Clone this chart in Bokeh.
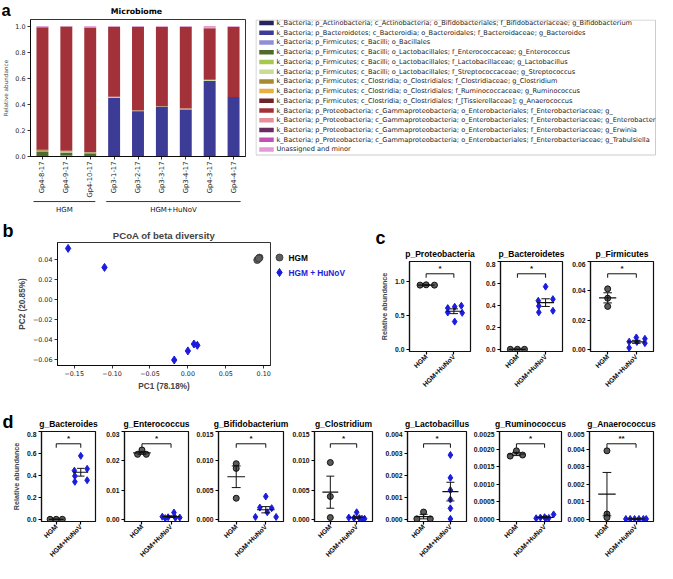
import math
from bokeh.plotting import figure
from bokeh.layouts import column, row
from bokeh.models import (ColumnDataSource, FactorRange, Range1d, FixedTicker, PrintfTickFormatter)
from bokeh.embed import file_html
from bokeh.resources import INLINE
from bokeh.core.properties import value

# ---------------- panel a data ----------------
samples = ["Gp4-8-17", "Gp4-9-17", "Gp4-10-17", "Gp3-1-17", "Gp3-2-17",
           "Gp3-3-17", "Gp3-4-17", "Gp4-3-17", "Gp4-4-17"]
sample_group = ["HGM", "HGM", "HGM", "HGM+HuNoV", "HGM+HuNoV",
                "HGM+HuNoV", "HGM+HuNoV", "HGM+HuNoV", "HGM+HuNoV"]
groups = ["HGM", "HGM+HuNoV"]

taxa_labels = [
    "k_Bacteria; p_Actinobacteria; c_Actinobacteria; o_Bifidobacteriales; f_Bifidobacteriaceae; g_Bifidobacterium",
    "k_Bacteria; p_Bacteroidetes; c_Bacteroidia; o_Bacteroidales; f_Bacteroidaceae; g_Bacteroides",
    "k_Bacteria; p_Firmicutes; c_Bacilli; o_Bacillales",
    "k_Bacteria; p_Firmicutes; c_Bacilli; o_Lactobacillales; f_Enterococcaceae; g_Enterococcus",
    "k_Bacteria; p_Firmicutes; c_Bacilli; o_Lactobacillales; f_Lactobacillaceae; g_Lactobacillus",
    "k_Bacteria; p_Firmicutes; c_Bacilli; o_Lactobacillales; f_Streptococcaceae; g_Streptococcus",
    "k_Bacteria; p_Firmicutes; c_Clostridia; o_Clostridiales; f_Clostridiaceae; g_Clostridium",
    "k_Bacteria; p_Firmicutes; c_Clostridia; o_Clostridiales; f_Ruminococcaceae; g_Ruminococcus",
    "k_Bacteria; p_Firmicutes; c_Clostridia; o_Clostridiales; f_[Tissierellaceae]; g_Anaerococcus",
    "k_Bacteria; p_Proteobacteria; c_Gammaproteobacteria; o_Enterobacteriales; f_Enterobacteriaceae; g_",
    "k_Bacteria; p_Proteobacteria; c_Gammaproteobacteria; o_Enterobacteriales; f_Enterobacteriaceae; g_Enterobacter",
    "k_Bacteria; p_Proteobacteria; c_Gammaproteobacteria; o_Enterobacteriales; f_Enterobacteriaceae; g_Erwinia",
    "k_Bacteria; p_Proteobacteria; c_Gammaproteobacteria; o_Enterobacteriales; f_Enterobacteriaceae; g_Trabulsiella",
    "Unassigned and minor",
]
taxa_colors = ["#25255c", "#3c3c96", "#8f8fd8", "#4d6b2b", "#a6c84c", "#cadc98", "#a58a32",
               "#e6b042", "#6e2428", "#a3313a", "#e4909a", "#6a2a62", "#c450b4", "#e49ad8"]

g_bifidobacterium = [0.0094, 0.0085, 0.0035, 0.0038, 0.0019, 0.0018, 0.0010, 0.0003, 0.0003]
g_bacteroides = [0.0, 0.0, 0.0, 0.445, 0.345, 0.380, 0.360, 0.580, 0.455]
o_bacillales = [0.0005, 0.0004, 0.0003, 0.0002, 0.0001, 0.0001, 0.0001, 0.0002, 0.0001]
g_enterococcus = [0.0238, 0.0222, 0.0220, 0.0021, 0.0008, 0.0006, 0.0005, 0.0004, 0.0003]
g_lactobacillus = [0.0003, 0.00005, 0.00005, 0.0029, 0.0019, 0.0013, 0.0008, 0.0004, 0.00005]
g_streptococcus = [0.0030, 0.0066, 0.0056, 0.0019, 0.0022, 0.0018, 0.0044, 0.0060, 0.0005]
g_clostridium = [0.0098, 0.0037, 0.0003, 0.0010, 0.0003, 0.0002, 0.0001, 0.0001, 0.0001]
g_ruminococcus = [0.00195, 0.00185, 0.00178, 0.00015, 0.00008, 0.00006, 0.00005, 0.00003, 0.00004]
g_anaerococcus = [0.0039, 0.0003, 0.0001, 0.0, 0.0, 0.0, 0.0, 0.0, 0.0]
g_enterobacteriaceae = [0.938, 0.951, 0.956, 0.536, 0.641, 0.606, 0.626, 0.396, 0.536]
g_enterobacter = [0.002, 0.002, 0.002, 0.002, 0.002, 0.002, 0.002, 0.002, 0.002]
g_erwinia = [0.001, 0.001, 0.001, 0.001, 0.001, 0.001, 0.001, 0.001, 0.001]
g_trabulsiella = [0.001, 0.001, 0.001, 0.001, 0.001, 0.001, 0.001, 0.001, 0.001]
unassigned_minor = [0.0056, 0.0015, 0.0064, 0.0030, 0.0027, 0.0041, 0.0030, 0.0126, 0.0036]
taxa_values = [g_bifidobacterium, g_bacteroides, o_bacillales, g_enterococcus, g_lactobacillus,
               g_streptococcus, g_clostridium, g_ruminococcus, g_anaerococcus,
               g_enterobacteriaceae, g_enterobacter, g_erwinia, g_trabulsiella, unassigned_minor]
a_yticks = [0.0, 0.2, 0.4, 0.6, 0.8, 1.0]

# ---------------- panel b data ----------------
pc1_hgm = [0.0915, 0.0945, 0.0935]
pc2_hgm = [0.0394, 0.0418, 0.0410]
pc1_hunov = [-0.158, -0.110, -0.018, 0.000, 0.008, 0.0125]
pc2_hunov = [0.0510, 0.0320, -0.0606, -0.0515, -0.0446, -0.0459]
b_xticks = [-0.15, -0.10, -0.05, 0.00, 0.05, 0.10]
b_yticks = [-0.06, -0.04, -0.02, 0.00, 0.02, 0.04]
b_legend_labels = ["HGM", "HGM + HuNoV"]

# ---------------- panels c, d data ----------------
cat_labels = ["HGM", "HGM+HuNoV"]
c_titles = ["p_Proteobacteria", "p_Bacteroidetes", "p_Firmicutes"]
p_proteobacteria_hgm = [0.950, 0.955, 0.950]
p_proteobacteria_hunov = [0.610, 0.630, 0.645, 0.545, 0.540, 0.410]
p_bacteroidetes_hgm = [0.0, 0.0, 0.0]
p_bacteroidetes_hunov = [0.571, 0.442, 0.457, 0.394, 0.337, 0.351]
p_firmicutes_hgm = [0.0413, 0.0349, 0.0293]
p_firmicutes_hunov = [0.0081, 0.0072, 0.0052, 0.0050, 0.0042, 0.0010]

d_titles = ["g_Bacteroides", "g_Enterococcus", "g_Bifidobacterium", "g_Clostridium",
            "g_Lactobacillus", "g_Ruminococcus", "g_Anaerococcus"]
g_bacteroides_hgm = [0.0, 0.0, 0.0]
g_bacteroides_hunov = [0.578, 0.443, 0.460, 0.394, 0.342, 0.356]
g_enterococcus_hgm = [0.0237, 0.0222, 0.0222]
g_enterococcus_hunov = [0.0023, 0.0009, 0.0007, 0.0006, 0.0005, 0.0004]
g_bifidobacterium_hgm = [0.0095, 0.0087, 0.0036]
g_bifidobacterium_hunov = [0.0039, 0.0020, 0.0019, 0.0012, 0.0004, 0.0004]
g_clostridium_hgm = [0.0097, 0.0039, 0.0003]
g_clostridium_hunov = [0.0012, 0.0003, 0.0002, 0.0002, 0.0001, 0.0001]
g_lactobacillus_hgm = [0.00033, 0.00002, 0.00002]
g_lactobacillus_hunov = [0.00293, 0.00189, 0.00133, 0.00090, 0.00050, 0.00002]
g_ruminococcus_hgm = [0.00195, 0.00180, 0.00183]
g_ruminococcus_hunov = [0.00014, 0.00006, 0.00005, 0.00004, 0.00003, 0.00002]
g_anaerococcus_hgm = [0.0039, 0.0003, 0.0001]
g_anaerococcus_hunov = [0.00002, 0.00002, 0.00002, 0.00002, 0.00002, 0.00002]

# ---------------- style ----------------
BLUE = "#1c1cdc"
MPL = "DejaVu Sans"
ARIAL = "Liberation Sans"
W = 657


def base(p):
    try:
        p.frame_align = False
    except Exception:
        pass
    p.grid.visible = False
    p.background_fill_color = "white"
    p.border_fill_color = "white"
    return p


def blank(width, height):
    p = figure(width=width, height=height, x_range=Range1d(0, width), y_range=Range1d(height, 0),
               output_backend="svg", toolbar_location=None, x_axis_type=None, y_axis_type=None,
               min_border_left=0, min_border_right=0, min_border_top=0, min_border_bottom=0)
    base(p)
    p.outline_line_color = None
    return p


def letter(p, txt, x, y, size="18px"):
    p.text(x=[x], y=[y], text=[txt], text_font=value(ARIAL), text_font_size=size,
           text_font_style="bold", text_color="black", text_baseline="middle", text_align="left")


def titles(p, xs, y, texts):
    p.text(x=xs, y=[y] * len(xs), text=texts, text_align="center", text_baseline="middle",
           text_font=value(ARIAL), text_font_size="8.5px", text_font_style="bold", text_color="black")


def centers(specs):
    out, x = [], 0
    for w, bl, br in specs:
        out.append(x + bl + (w - bl - br) / 2)
        x += w
    return out


def mpl_axes(p):
    for ax in (p.xaxis[0], p.yaxis[0]):
        ax.major_tick_out = 3
        ax.major_tick_in = 0
        ax.minor_tick_out = 0
        ax.minor_tick_in = 0
        ax.major_label_text_font = MPL
        ax.major_label_text_font_size = "6.4px"
        ax.major_label_text_color = "#222222"
        ax.major_label_standoff = 2
        ax.axis_line_color = "black"
        ax.axis_line_width = 0.8
        ax.major_tick_line_width = 0.8
    p.outline_line_color = "black"
    p.outline_line_width = 0.8


# ---------------- row 1: panel a ----------------
A_LEFT, A_FRAME_W, A_TOP, A_RIGHT = 27, 218, 19, 10
strip_a = blank(W, A_TOP)
letter(strip_a, "a", 1, 9.5, "16.5px")
strip_a.text(x=[A_LEFT + A_FRAME_W / 2], y=[11], text=["Microbiome"], text_align="center",
             text_baseline="middle", text_font=value(MPL), text_font_size="7.8px",
             text_font_style="bold", text_color="black")

HA = 181
src_a = ColumnDataSource({"sample": samples, **{f"t{i}": v for i, v in enumerate(taxa_values)}})
pa = figure(width=A_LEFT + A_FRAME_W + A_RIGHT, height=HA, x_range=FactorRange(*samples, range_padding=0),
            y_range=Range1d(0, 1.05), output_backend="svg", toolbar_location=None,
            min_border_left=A_LEFT, min_border_right=A_RIGHT, min_border_top=0, min_border_bottom=42)
base(pa)
pa.vbar_stack([f"t{i}" for i in range(len(taxa_values))], x="sample", width=0.5,
              color=taxa_colors, line_color=None, source=src_a)
mpl_axes(pa)
pa.yaxis.ticker = FixedTicker(ticks=a_yticks, minor_ticks=[])
pa.yaxis.formatter = PrintfTickFormatter(format="%.1f")
pa.xaxis.major_label_orientation = math.pi / 2
pa.xaxis.major_label_text_font_size = "6.8px"
pa.yaxis.axis_label = "Relative abundance"
pa.yaxis.axis_label_text_font = MPL
pa.yaxis.axis_label_text_font_size = "5.7px"
pa.yaxis.axis_label_text_font_style = "normal"
pa.yaxis.axis_label_standoff = 3

# legend box for panel a, drawn in its own little plot
LW = W - (A_LEFT + A_FRAME_W + A_RIGHT)
lega = blank(LW, HA)
n_t = len(taxa_labels)
row_y = [3.5 + 9.73 * i for i in range(n_t)]
lega.quad(left=[0.5], right=[400.0], top=[0.5], bottom=[135.5], fill_color="white",
          line_color="#cccccc", line_width=1)
lega.rect(x=[11] * n_t, y=row_y, width=14.5, height=4.5, fill_color=taxa_colors, line_color=None)
lega.text(x=[21] * n_t, y=row_y, text=taxa_labels, text_align="left", text_baseline="middle",
          text_font=value(MPL), text_font_size="6.6px", text_color="#222222")

# group brackets under panel a (same frame as pa)
pg = figure(width=W, height=15, x_range=Range1d(0, len(samples)), y_range=Range1d(0, 1),
            output_backend="svg", toolbar_location=None, x_axis_type=None, y_axis_type=None,
            min_border_left=A_LEFT, min_border_right=W - A_LEFT - A_FRAME_W,
            min_border_top=0, min_border_bottom=0)
base(pg)
pg.outline_line_color = None
for gname in groups:
    idx = [i for i, g in enumerate(sample_group) if g == gname]
    x0, x1 = idx[0] + 0.25, idx[-1] + 0.8
    pg.segment(x0=[x0], x1=[x1], y0=[0.93], y1=[0.93], line_color="black", line_width=0.8)
    pg.text(x=[(x0 + x1) / 2], y=[0.4], text=[gname], text_align="center", text_baseline="middle",
            text_font=value(MPL), text_font_size="7px", text_color="#111111")

# ---------------- row 2: panels b, c ----------------
H2 = 178
fig_b = blank(14, H2)
letter(fig_b, "b", 2, 15)

pb = figure(width=258, height=H2, x_range=Range1d(-0.172, 0.109), y_range=Range1d(-0.0661, 0.0569),
            output_backend="svg", toolbar_location=None,
            min_border_left=40, min_border_right=2, min_border_top=27, min_border_bottom=28,
            title="PCoA of beta diversity")
base(pb)
mpl_axes(pb)
pb.scatter(pc1_hgm, pc2_hgm, marker="circle", size=7, fill_color="#5e5e5e",
           line_color="#333333", line_width=0.8)
pb.scatter(pc1_hunov, pc2_hunov, marker="diamond", size=8, fill_color=BLUE, line_color=BLUE)
pb.xaxis.ticker = FixedTicker(ticks=b_xticks, minor_ticks=[])
pb.yaxis.ticker = FixedTicker(ticks=b_yticks, minor_ticks=[])
pb.xaxis.major_label_overrides = {t: f"{t:.2f}".replace("-", "\u2212") for t in b_xticks}
pb.yaxis.major_label_overrides = {t: f"{t:.2f}".replace("-", "\u2212") for t in b_yticks}
pb.xaxis.axis_label = "PC1 (78.18%)"
pb.yaxis.axis_label = "PC2 (20.85%)"
for ax in (pb.xaxis[0], pb.yaxis[0]):
    ax.axis_label_text_font = ARIAL
    ax.axis_label_text_font_size = "8.2px"
    ax.axis_label_text_font_style = "bold"
    ax.axis_label_standoff = 3
pb.title.align = "center"
pb.title.text_font = ARIAL
pb.title.text_font_size = "9.6px"
pb.title.text_font_style = "bold"
pb.title.standoff = 4

pbleg = blank(100, H2)
pbleg.scatter([7], [42], marker="circle", size=7, fill_color="#5e5e5e", line_color="#333333",
              line_width=0.8)
pbleg.scatter([7], [57], marker="diamond", size=8, fill_color=BLUE, line_color=BLUE)
pbleg.text(x=[16, 16], y=[42, 57], text=b_legend_labels, text_color=["black", BLUE],
           text_align="left", text_baseline="middle", text_font=value(ARIAL),
           text_font_size="8.3px", text_font_style="bold")


def mean_sem(vals):
    n = len(vals)
    m = sum(vals) / n
    sd = math.sqrt(sum((v - m) ** 2 for v in vals) / (n - 1))
    return m, sd / math.sqrt(n)


def dot_panel(hgm, hgm_dx, hunov, hunov_dx, ymax, ticks, fmt, star, spec, height, bb, ylabel=None):
    width, bl, br = spec
    p = figure(width=width, height=height, x_range=Range1d(-0.6, 1.6),
               y_range=Range1d(-0.025 * ymax, ymax), output_backend="svg", toolbar_location=None,
               min_border_left=bl, min_border_right=br, min_border_top=0, min_border_bottom=bb)
    base(p)
    p.outline_line_color = "#111111"
    p.outline_line_width = 1.2
    for ax in (p.xaxis[0], p.yaxis[0]):
        ax.major_tick_out = 3
        ax.major_tick_in = 0
        ax.minor_tick_out = 0
        ax.minor_tick_in = 0
        ax.major_label_text_font = ARIAL
        ax.major_label_text_font_style = "bold"
        ax.major_label_text_font_size = "6.8px"
        ax.major_label_text_color = "#111111"
        ax.axis_line_color = "#111111"
        ax.axis_line_width = 1.2
        ax.major_tick_line_width = 1.2
    p.yaxis.ticker = FixedTicker(ticks=ticks, minor_ticks=[])
    p.yaxis.formatter = PrintfTickFormatter(format=fmt)
    p.yaxis.major_label_standoff = 2
    p.xaxis.ticker = FixedTicker(ticks=[0, 1], minor_ticks=[])
    p.xaxis.major_label_overrides = {0: cat_labels[0], 1: cat_labels[1]}
    p.xaxis.major_label_orientation = math.pi / 4
    p.xaxis.major_label_standoff = 1
    p.xaxis.major_label_text_font_size = "6.8px"
    if ylabel:
        p.yaxis.axis_label = ylabel
        p.yaxis.axis_label_text_font = ARIAL
        p.yaxis.axis_label_text_font_style = "bold"
        p.yaxis.axis_label_text_font_size = "7.2px"
        p.yaxis.axis_label_standoff = 3
    p.scatter([0 + d for d in hgm_dx], hgm, marker="circle", size=6, fill_color="#5a5a5a",
              line_color="#111111", line_width=1)
    p.scatter([1 + d for d in hunov_dx], hunov, marker="diamond", size=7, fill_color=BLUE,
              line_color=BLUE)
    for xc, vals in ((0, hgm), (1, hunov)):
        m, s = mean_sem(vals)
        p.segment(x0=[xc - 0.3], x1=[xc + 0.3], y0=[m], y1=[m], line_color="#111111", line_width=1.2)
        p.segment(x0=[xc], x1=[xc], y0=[m - s], y1=[m + s], line_color="#111111", line_width=1)
        p.segment(x0=[xc - 0.15, xc - 0.15], x1=[xc + 0.15, xc + 0.15], y0=[m - s, m + s],
                  y1=[m - s, m + s], line_color="#111111", line_width=1)
    yb = 0.86 * ymax
    tk = 0.045 * ymax
    p.segment(x0=[0, 0, 1], x1=[1, 0, 1], y0=[yb, yb, yb], y1=[yb, yb - tk, yb - tk],
              line_color="#111111", line_width=1)
    p.text(x=[0.5], y=[yb + 0.01 * ymax], text=[star], text_align="center", text_baseline="bottom",
           text_font=value(ARIAL), text_font_size="8px", text_font_style="bold", text_color="#111111")
    return p


C_SPECS = [(100, 37, 2), (92, 28, 2), (93, 26, 4)]
C_TOP = 46
strip_c = blank(sum(s[0] for s in C_SPECS), C_TOP)
letter(strip_c, "c", 3, 22)
titles(strip_c, centers(C_SPECS), 38, c_titles)
HC, BBC = H2 - C_TOP, 42
c1 = dot_panel(p_proteobacteria_hgm, [-0.22, 0.0, 0.3],
               p_proteobacteria_hunov, [-0.22, 0.03, 0.27, -0.22, 0.3, 0.03],
               1.3, [0.0, 0.5, 1.0], "%.1f", "*", C_SPECS[0], HC, BBC, "Relative abundance")
c2 = dot_panel(p_bacteroidetes_hgm, [-0.25, 0.0, 0.25],
               p_bacteroidetes_hunov, [0.0, -0.26, 0.26, -0.24, -0.24, 0.26],
               0.8, [0.0, 0.2, 0.4, 0.6, 0.8], "%.1f", "*", C_SPECS[1], HC, BBC)
c3 = dot_panel(p_firmicutes_hgm, [0.0, 0.0, 0.0],
               p_firmicutes_hunov, [0.0, 0.3, -0.25, 0.02, 0.3, -0.25],
               0.06, [0.0, 0.02, 0.04, 0.06], "%.2f", "*", C_SPECS[2], HC, BBC)

# ---------------- row 3: panel d ----------------
D_SPECS = [(97, 41, 2), (93, 27, 2), (95, 28, 2), (89, 29, 2), (94, 33, 2), (95, 31, 2), (94, 26, 4)]
H3, D_TOP = 170, 38
strip_d = blank(W, D_TOP)
letter(strip_d, "d", 2, 28)
titles(strip_d, centers(D_SPECS), 30, d_titles)
HD, BBD = H3 - D_TOP, 42
d1 = dot_panel(g_bacteroides_hgm, [-0.25, 0.0, 0.25],
               g_bacteroides_hunov, [0.0, -0.26, 0.26, -0.24, -0.24, 0.26],
               0.8, [0.0, 0.2, 0.4, 0.6, 0.8], "%.1f", "*", D_SPECS[0], HD, BBD, "Relative abundance")
d2 = dot_panel(g_enterococcus_hgm, [0.0, -0.15, 0.15],
               g_enterococcus_hunov, [0.1, -0.3, -0.1, 0.3, 0.15, -0.2],
               0.03, [0.0, 0.01, 0.02, 0.03], "%.2f", "*", D_SPECS[1], HD, BBD)
d3 = dot_panel(g_bifidobacterium_hgm, [0.0, 0.0, 0.0],
               g_bifidobacterium_hunov, [0.0, -0.2, 0.2, 0.05, -0.35, 0.35],
               0.015, [0.0, 0.005, 0.010, 0.015], "%.3f", "*", D_SPECS[2], HD, BBD)
d4 = dot_panel(g_clostridium_hgm, [0.0, 0.0, 0.0],
               g_clostridium_hunov, [0.0, -0.3, -0.1, 0.1, 0.3, 0.2],
               0.015, [0.0, 0.005, 0.010, 0.015], "%.3f", "*", D_SPECS[3], HD, BBD)
d5 = dot_panel(g_lactobacillus_hgm, [0.0, -0.25, 0.25],
               g_lactobacillus_hunov, [0.0, 0.0, 0.0, 0.0, 0.0, 0.0],
               0.004, [0.0, 0.001, 0.002, 0.003, 0.004], "%.3f", "*", D_SPECS[4], HD, BBD)
d6 = dot_panel(g_ruminococcus_hgm, [0.0, -0.22, 0.22],
               g_ruminococcus_hunov, [0.32, 0.0, -0.15, 0.15, -0.3, 0.05],
               0.0025, [0.0, 0.0005, 0.0010, 0.0015, 0.0020, 0.0025], "%.4f", "*", D_SPECS[5], HD, BBD)
d7 = dot_panel(g_anaerococcus_hgm, [0.0, 0.0, 0.0],
               g_anaerococcus_hunov, [-0.35, -0.2, -0.05, 0.1, 0.25, 0.35],
               0.005, [0.0, 0.001, 0.002, 0.003, 0.004, 0.005], "%.3f", "**", D_SPECS[6], HD, BBD)

layout = column(
    strip_a,
    row(pa, lega, spacing=0),
    pg,
    row(fig_b, pb, pbleg, column(strip_c, row(c1, c2, c3, spacing=0), spacing=0), spacing=0),
    column(strip_d, row(d1, d2, d3, d4, d5, d6, d7, spacing=0), spacing=0),
    spacing=0,
)

open("out.html", "w").write(file_html(layout, INLINE))
